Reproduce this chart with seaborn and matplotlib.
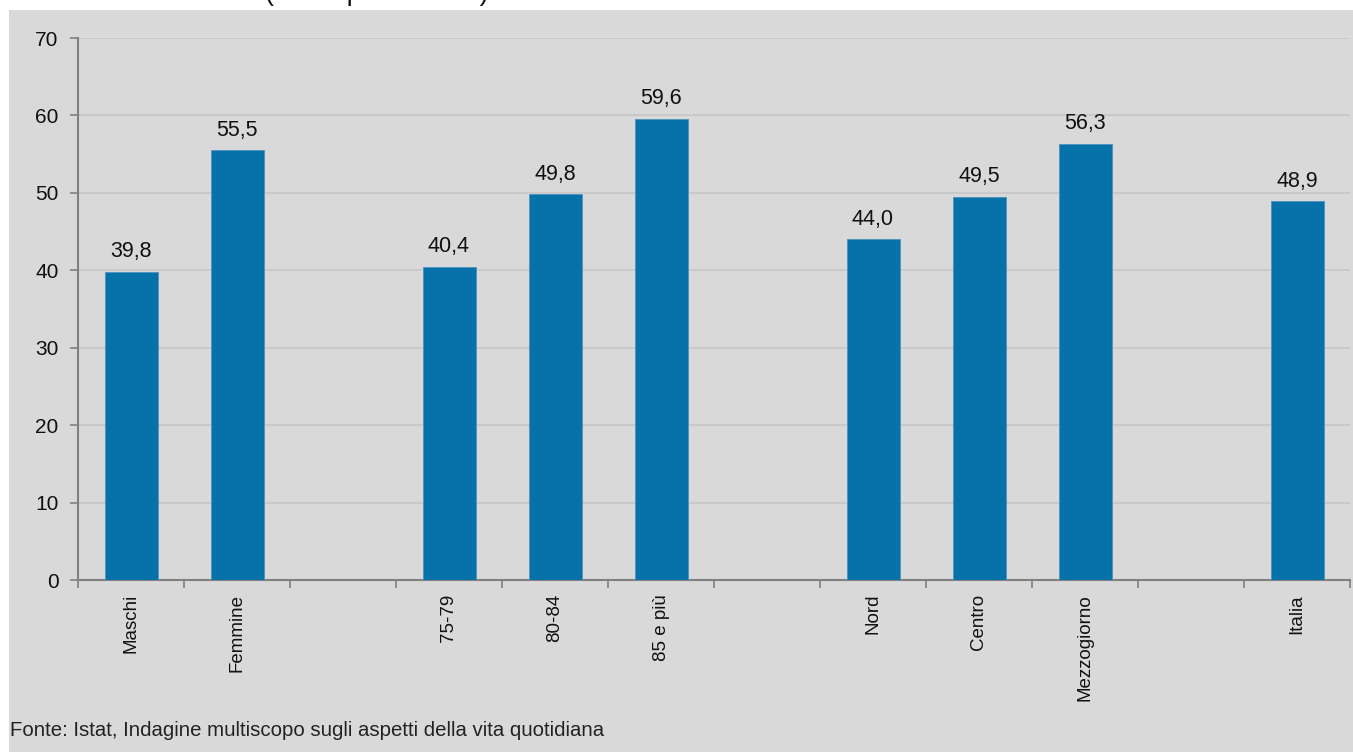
import matplotlib
matplotlib.use("Agg")
import matplotlib.pyplot as plt
import matplotlib.patches as mpatches
import seaborn as sns
import pandas as pd
import numpy as np

# Data
categories = ["Maschi", "Femmine", "75-79", "80-84", "85 e più",
              "Nord", "Centro", "Mezzogiorno", "Italia"]
values = [39.8, 55.5, 40.4, 49.8, 59.6, 44.0, 49.5, 56.3, 48.9]
order = ["Maschi", "Femmine", " ", "75-79", "80-84", "85 e più", "  ",
         "Nord", "Centro", "Mezzogiorno", "   ", "Italia"]
yticks = [0, 10, 20, 30, 40, 50, 60, 70]
source = "Fonte: Istat, Indagine multiscopo sugli aspetti della vita quotidiana"
title_fragment = "(valori percentuali)"

sns.set_theme(style="white")
plt.rcParams["font.family"] = ["Liberation Sans", "DejaVu Sans"]

W, H = 1353, 752
fig = plt.figure(figsize=(W / 100, H / 100), dpi=100, facecolor="white")

# gray panel background
bg = mpatches.Rectangle((9 / W, 0), 1 - 9 / W, 1 - 10 / H, transform=fig.transFigure,
                        facecolor="#d9d9d9", edgecolor="none", zorder=-10)
fig.patches.append(bg)

ax = fig.add_axes([78 / W, 1 - 580 / H, (1350 - 78) / W, (580 - 38) / H])
ax.set_facecolor("none")

df = pd.DataFrame({"cat": categories, "val": values})
sns.barplot(data=df, x="cat", y="val", order=order, color="#0771aa",
            width=0.5, saturation=1, ax=ax, edgecolor="#4a93c0", linewidth=0.6,
            zorder=3)

ax.set_xlim(-0.5, len(order) - 0.5)
ax.set_ylim(0, 70)
ax.set_yticks(yticks)
ax.set_yticklabels([str(v) for v in yticks], fontsize=15, color="#111111")
ax.yaxis.grid(True, color="#c6c6c6", linewidth=1.2, zorder=0)
ax.set_axisbelow(True)

# x ticks: boundaries as major ticks, labels at centers as minor ticks
ax.set_xticks(np.arange(-0.5, len(order), 1.0))
ax.set_xticklabels([])
ax.set_xticks(np.arange(len(order)), minor=True)
ax.set_xticklabels(order, minor=True, rotation=90, fontsize=13.5, color="#111111",
                   va="top", ha="center")
ax.tick_params(axis="x", which="major", length=6, width=1.2, color="#808080",
               direction="out", bottom=True)
ax.tick_params(axis="x", which="minor", length=0, pad=10)
ax.tick_params(axis="y", length=6, width=1.2, color="#808080", direction="out",
               left=True, pad=8)

ax.set_xlabel("")
ax.set_ylabel("")
for s in ["top", "right"]:
    ax.spines[s].set_visible(False)
for s in ["left", "bottom"]:
    ax.spines[s].set_color("#808080")
    ax.spines[s].set_linewidth(1.5)

# value labels
for c in ax.containers:
    labels = [("%.1f" % v).replace(".", ",") if not np.isnan(v) else "" for v in c.datavalues]
    ax.bar_label(c, labels=labels, padding=7, fontsize=15.5, color="#111111")

fig.text(10 / W, 1 - 731 / H, source, fontsize=14.7, color="#222222",
         ha="left", va="center")

fig.text(265 / W, 1 + 0.5 / H, title_fragment, fontsize=19.5, color="#111111",
         ha="left", va="baseline")

fig.savefig("out.png", dpi=100, facecolor="white")
